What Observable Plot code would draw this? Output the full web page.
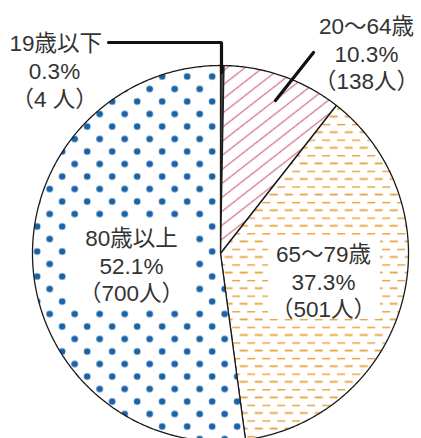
<!DOCTYPE html>
<html>
<head>
<meta charset="utf-8">
<script src="https://cdn.jsdelivr.net/npm/d3@7"></script>
<script src="https://cdn.jsdelivr.net/npm/@observablehq/plot@0.6"></script>
<style>
  html, body { margin: 0; padding: 0; background: #fff; }
  svg { display: block; }
</style>
</head>
<body>
<div id="chart"></div>
<script>
// ---- data ----
const categories = ["19歳以下", "20～64歳", "65～79歳", "80歳以上"];
const counts = [4, 138, 501, 700];
const percentLabels = ["0.3%", "10.3%", "37.3%", "52.1%"];
const countLabels = ["（4 人）", "（138人）", "（501人）", "（700人）"];

// ---- layout ----
const W = 421, H = 438;
const CX = 220, CY = 253, R = 188;
const FS = 22.5, LH = 27.5;
const fills = ["#4a4a4a", "url(#hatch)", "url(#dash)", "url(#dots)"];
const boxes = [
  {x1: 268, x2: 380, y1: 238, y2: 319},
  {x1: 68, x2: 192, y1: 220, y2: 307}
];
const leaders = [
  [{x: 108, y: 42}, {x: 221, y: 42}, {x: 221, y: 72}],
  [{x: 313, y: 52}, {x: 275, y: 100}]
];

// ---- geometry from values ----
const arcs = d3.pie().sort(null).value(d => d)(counts);
const slices = arcs.map((a, i) => {
  const pts = [{x: CX, y: CY}];
  const n = Math.max(2, Math.ceil((a.endAngle - a.startAngle) / (Math.PI / 360)));
  for (let j = 0; j <= n; j++) {
    const t = a.startAngle + (a.endAngle - a.startAngle) * j / n;
    pts.push({x: CX + R * Math.sin(t), y: CY - R * Math.cos(t)});
  }
  pts.push({x: CX, y: CY});
  return pts;
});

// label blocks (multi-line text, one element each)
const blocks = [
  {text: categories[0], x: 9, y: 42, anchor: "start"},
  {text: percentLabels[0] + "\n" + countLabels[0], x: 54, y: 71 + LH / 2 - 1, anchor: "middle"},
  {text: [categories[1], percentLabels[1], countLabels[1]].join("\n"), x: 366, y: 25 + LH, anchor: "middle"},
  {text: [categories[2], percentLabels[2], countLabels[2]].join("\n"), x: 323, y: 253 + LH, anchor: "middle"},
  {text: [categories[3], percentLabels[3], countLabels[3]].join("\n"), x: 131, y: 237 + LH, anchor: "middle"}
];

const font = "'Liberation Sans', 'Noto Sans CJK JP', sans-serif";
const marks = [];
slices.forEach((pts, i) => {
  marks.push(Plot.line(pts, {x: "x", y: "y", fill: fills[i], stroke: "#1a1a1a", strokeWidth: 1.3}));
});
marks.push(Plot.rect(boxes, {x1: "x1", x2: "x2", y1: "y1", y2: "y2", fill: "white"}));
leaders.forEach(l => marks.push(Plot.line(l, {x: "x", y: "y", stroke: "#111", strokeWidth: 3.2, strokeLinejoin: "miter"})));
["start", "middle"].forEach(anc => {
  marks.push(Plot.text(blocks.filter(d => d.anchor === anc), {
    x: "x", y: "y", text: "text", textAnchor: anc, lineAnchor: "middle",
    lineHeight: LH / FS, fontSize: FS, fill: "#333", fontFamily: font
  }));
});

const svg = Plot.plot({
  width: W, height: H,
  margin: 0,
  x: {type: "linear", domain: [0, W], range: [0, W], axis: null},
  y: {type: "linear", domain: [0, H], range: [0, H], axis: null},
  style: {background: "white", overflow: "hidden"},
  marks
});

const defs = d3.select(svg).insert("defs", ":first-child");
const hatch = defs.append("pattern").attr("id", "hatch").attr("patternUnits", "userSpaceOnUse")
  .attr("width", 20).attr("height", 11).attr("patternTransform", "rotate(-38)");
hatch.append("rect").attr("width", 20).attr("height", 11).attr("fill", "white");
hatch.append("line").attr("x1", 0).attr("x2", 20).attr("y1", 5.5).attr("y2", 5.5)
  .attr("stroke", "#d4788a").attr("stroke-width", 1.3);
const dash = defs.append("pattern").attr("id", "dash").attr("patternUnits", "userSpaceOnUse")
  .attr("x", 306.7).attr("y", 139).attr("width", 15).attr("height", 15.6);
dash.append("rect").attr("width", 15).attr("height", 15.6).attr("fill", "white");
dash.append("line").attr("x1", 0).attr("x2", 8).attr("y1", 0.5).attr("y2", 0.5)
  .attr("stroke", "#e8a038").attr("stroke-width", 1.8);
dash.append("line").attr("x1", 7.5).attr("x2", 15.5).attr("y1", 8.3).attr("y2", 8.3)
  .attr("stroke", "#e8a038").attr("stroke-width", 1.8);
dash.append("line").attr("x1", -0.5).attr("x2", 0.5).attr("y1", 8.3).attr("y2", 8.3)
  .attr("stroke", "#e8a038").attr("stroke-width", 1.8);
const dots = defs.append("pattern").attr("id", "dots").attr("patternUnits", "userSpaceOnUse")
  .attr("x", 11.7).attr("y", 1).attr("width", 25).attr("height", 25);
dots.append("rect").attr("width", 25).attr("height", 25).attr("fill", "white");
[[0, 0], [25, 0], [0, 25], [25, 25], [12.5, 12.5]].forEach(([x, y]) =>
  dots.append("circle").attr("cx", x).attr("cy", y).attr("r", 3.3).attr("fill", "#1a63a8"));

document.getElementById("chart").appendChild(svg);
</script>
</body>
</html>
